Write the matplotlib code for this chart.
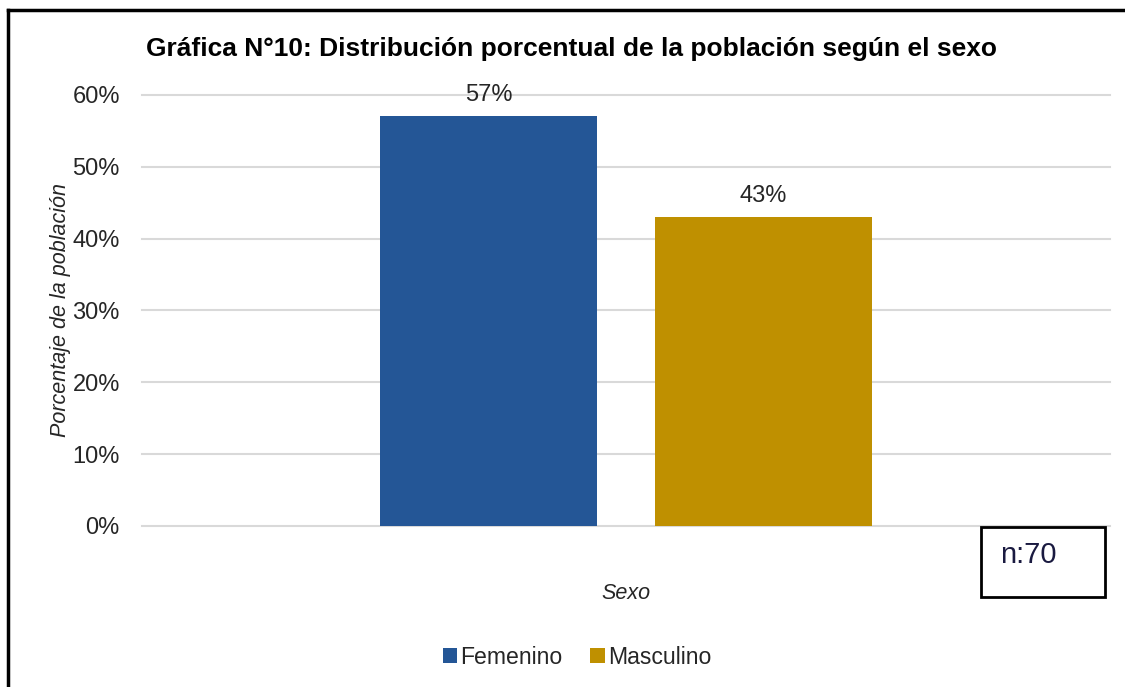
import matplotlib.pyplot as plt
from matplotlib.lines import Line2D
from matplotlib.patches import Rectangle

plt.rcParams['font.family'] = ['Liberation Sans', 'DejaVu Sans']

# datos
series = ['Femenino', 'Masculino']
valores = [0.57, 0.43]
etiquetas = ['57%', '43%']
colores = ['#245696', '#bf9000']
yticks = [0, 0.1, 0.2, 0.3, 0.4, 0.5, 0.6]
ytick_labels = ['0%', '10%', '20%', '30%', '40%', '50%', '60%']

fig = plt.figure(figsize=(11.25, 6.87), dpi=100)
ax = fig.add_axes([0.1262, 0.2344, 0.8604, 0.6274])

ancho = 0.224
sep = 0.284
offsets = [-sep / 2, sep / 2]
for nombre, v, et, c, off in zip(series, valores, etiquetas, colores, offsets):
    ax.bar(off, v, width=ancho, color=c, label=nombre, zorder=3)
    ax.text(off, v + 0.014, et, ha='center', va='bottom', fontsize=17, color='#262626')

ax.set_xlim(-0.5, 0.5)
ax.set_ylim(0, 0.6)
ax.set_yticks(yticks)
ax.set_yticklabels(ytick_labels, fontsize=17, color='#262626')
ax.set_xticks([])
ax.tick_params(axis='y', length=0, pad=16)
ax.grid(axis='y', color='#d9d9d9', linewidth=1.5, zorder=0)
for s in ax.spines.values():
    s.set_visible(False)
for gl in ax.get_ygridlines():
    gl.set_clip_on(False)

ax.set_xlabel('Sexo', fontsize=15.5, style='italic', color='#262626', labelpad=41)
ax.set_ylabel('Porcentaje de la población', fontsize=15.5, style='italic', color='#262626', labelpad=1)

fig.text(0.508, 0.929, 'Gráfica N°10: Distribución porcentual de la población según el sexo',
         ha='center', va='center', fontsize=19, fontweight='bold', color='#000000')

leg = fig.legend(loc='center', bbox_to_anchor=(0.513, 0.043), ncol=2, frameon=False,
                 fontsize=16.6, handlelength=0.62, handleheight=0.62, handletextpad=0.15,
                 columnspacing=1.2)
for t in leg.get_texts():
    t.set_color('#262626')

# cuadro n:70
fig.add_artist(Rectangle((981 / 1125, 1 - 597 / 687), 124 / 1125, 70 / 687,
                         transform=fig.transFigure, fill=False, edgecolor='black', linewidth=2))
fig.text(1000 / 1125, 1 - 555 / 687, 'n:70', ha='left', va='center', fontsize=21, color='#1a1a40')

# borde exterior
fig.add_artist(Line2D([8 / 1125, 8 / 1125], [1 - 10 / 687, 0], transform=fig.transFigure,
                      color='black', linewidth=2.5))
fig.add_artist(Line2D([8 / 1125, 1], [1 - 10 / 687, 1 - 10 / 687], transform=fig.transFigure,
                      color='black', linewidth=2.5))

fig.savefig('out.png', dpi=100)
